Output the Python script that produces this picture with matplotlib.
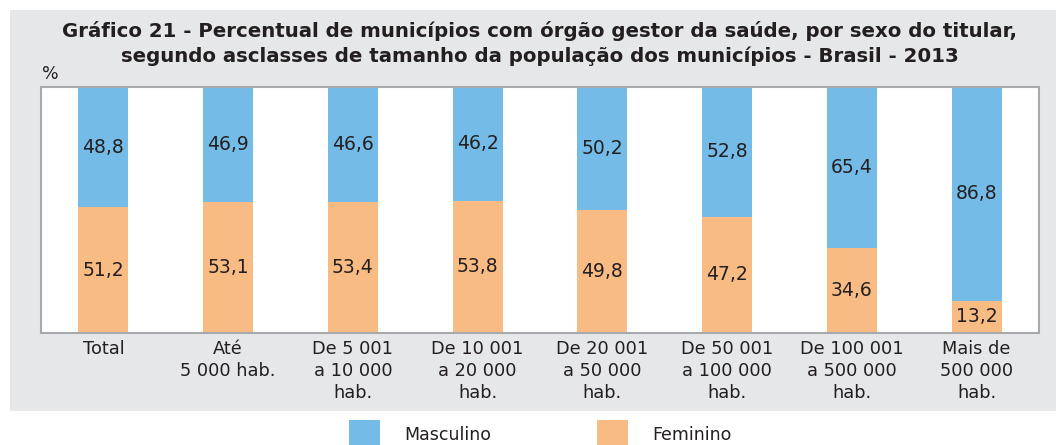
import matplotlib
matplotlib.use("Agg")
import matplotlib.pyplot as plt
from matplotlib.patches import Rectangle

categories = ["Total", "Até\n5 000 hab.", "De 5 001\na 10 000\nhab.", "De 10 001\na 20 000\nhab.",
              "De 20 001\na 50 000\nhab.", "De 50 001\na 100 000\nhab.", "De 100 001\na 500 000\nhab.",
              "Mais de\n500 000\nhab."]
feminino = [51.2, 53.1, 53.4, 53.8, 49.8, 47.2, 34.6, 13.2]
masculino = [48.8, 46.9, 46.6, 46.2, 50.2, 52.8, 65.4, 86.8]
series_names = ["Masculino", "Feminino"]
colors = {"Masculino": "#74bce7", "Feminino": "#f9bb84"}

title = ("Gráfico 21 - Percentual de municípios com órgão gestor da saúde, por sexo do titular,\n"
         "segundo asclasses de tamanho da população dos municípios - Brasil - 2013")

plt.rcParams['font.family'] = ['DejaVu Sans']
TXT = "#231f20"
W, H = 1056, 445
fig = plt.figure(figsize=(W / 100, H / 100), dpi=100)
fig.patch.set_facecolor("white")

# gray panel
fig.add_artist(Rectangle((10 / W, 1 - 411 / H), (W - 10) / W, (411 - 10) / H,
                         transform=fig.transFigure, facecolor="#e6e7e9", edgecolor="none", zorder=0))

ax = fig.add_axes([41 / W, 1 - 333 / H, 998 / W, (333 - 87) / H])
ax.set_facecolor("white")
x = list(range(len(categories)))
ax.bar(x, feminino, width=0.4, color=colors["Feminino"], zorder=2)
ax.bar(x, masculino, width=0.4, bottom=feminino, color=colors["Masculino"], zorder=2)
for i in x:
    ax.text(i, feminino[i] / 2, f"{feminino[i]:.1f}".replace(".", ","), ha="center", va="center",
            fontsize=13.5, color=TXT)
    ax.text(i, feminino[i] + masculino[i] / 2, f"{masculino[i]:.1f}".replace(".", ","), ha="center",
            va="center", fontsize=13.5, color=TXT)
ax.set_xlim(-0.5, len(categories) - 0.5)
ax.set_ylim(0, 100)
ax.set_yticks([])
ax.set_xticks(x)
ax.set_xticklabels(categories, fontsize=12.8, color=TXT, linespacing=1.3, va="top")
ax.tick_params(axis="x", length=0, pad=5)
for s in ax.spines.values():
    s.set_color("#a7a9ac")
    s.set_linewidth(1.5)

fig.text(540 / W, 1 - 43.5 / H, title, ha="center", va="center", fontsize=14.2, fontweight="bold",
         color=TXT, linespacing=1.4)
fig.text(42 / W, 1 - 74 / H, "%", ha="left", va="center", fontsize=12.5, color=TXT)

# legend
leg_x = [349, 597]
for name, lx in zip(series_names, leg_x):
    fig.add_artist(Rectangle((lx / W, 1 - 445 / H), 31 / W, 25 / H, transform=fig.transFigure,
                             facecolor=colors[name], edgecolor="none"))
    fig.text((lx + 55) / W, 1 - 435 / H, name, ha="left", va="center", fontsize=12.5, color=TXT)

fig.savefig("out.png", dpi=100)
